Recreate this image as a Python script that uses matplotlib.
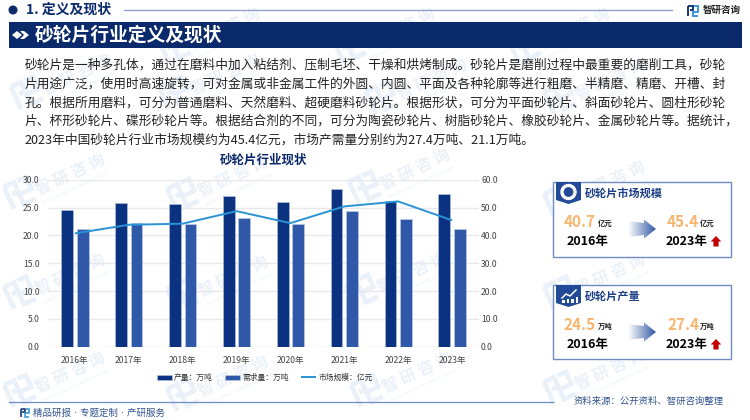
import numpy as np
import matplotlib
matplotlib.use('Agg')
import matplotlib.pyplot as plt
from matplotlib.patches import Polygon, Rectangle, Circle

plt.rcParams['font.family'] = ['Noto Sans CJK SC', 'DejaVu Sans']

years = ['2016年', '2017年', '2018年', '2019年', '2020年', '2021年', '2022年', '2023年']
production = [24.5, 25.8, 25.6, 27.0, 26.0, 28.3, 26.2, 27.4]
demand = [21.1, 22.3, 22.1, 23.2, 22.1, 24.4, 22.9, 21.1]
market = [40.7, 43.8, 44.2, 48.7, 44.4, 50.4, 52.2, 45.4]
left_ticks = [0, 5, 10, 15, 20, 25, 30]
right_ticks = [0, 10, 20, 30, 40, 50, 60]
body_lines = [
    '砂轮片是一种多孔体，通过在磨料中加入粘结剂、压制毛坯、干燥和烘烤制成。砂轮片是磨削过程中最重要的磨削工具，砂轮',
    '片用途广泛，使用时高速旋转，可对金属或非金属工件的外圆、内圆、平面及各种轮廓等进行粗磨、半精磨、精磨、开槽、封',
    '孔。根据所用磨料，可分为普通磨料、天然磨料、超硬磨料砂轮片。根据形状，可分为平面砂轮片、斜面砂轮片、圆柱形砂轮',
    '片、杯形砂轮片、碟形砂轮片等。根据结合剂的不同，可分为陶瓷砂轮片、树脂砂轮片、橡胶砂轮片、金属砂轮片等。据统计，',
    '2023年中国砂轮片行业市场规模约为45.4亿元，市场产需量分别约为27.4万吨、21.1万吨。',
]

NAVY = '#0B2A6B'
DARK = '#0B3281'
MID = '#2F59A8'
LINE = '#2A93D5'
BORDER = '#6F8CC4'
ORANGE = '#F7B56E'

fig = plt.figure(figsize=(7.5, 4.2), dpi=100, facecolor='white')
bg = fig.add_axes([0, 0, 1, 1], zorder=0)
bg.set_xlim(0, 750)
bg.set_ylim(420, 0)
bg.axis('off')
fg = fig.add_axes([0, 0, 1, 1], zorder=5)
fg.set_xlim(0, 750)
fg.set_ylim(420, 0)
fg.axis('off')
fg.patch.set_alpha(0)


def logo(ax, x, y, size, c1, c2, angle=0, lw=1.5):
    a = np.deg2rad(angle)
    rot = np.array([[np.cos(a), np.sin(a)], [-np.sin(a), np.cos(a)]])
    parts = [([(0, 0), (0.46, 0), (0.46, 0.42), (0.18, 0.42)], c1),
             ([(0, 0), (0, 1)], c1),
             ([(0.62, 0), (1, 0), (1, 0.55), (0.45, 0.55), (0.45, 1), (1, 1)], c2)]
    for pts, c in parts:
        p = np.array(pts) * size @ rot.T + [x, y]
        ax.plot(p[:, 0], p[:, 1], color=c, lw=lw, solid_capstyle='butt', solid_joinstyle='miter')


# watermarks
WM = '#EBF1F8'
marks = [(70, 175), (70, 275), (70, 373), (233, 177), (233, 277), (233, 377),
         (415, 170), (412, 273), (417, 373), (610, 182), (610, 275), (610, 370),
         (77, 75), (225, 75), (432, 80), (610, 80), (225, 29), (400, 29), (575, 29)]
for mx, my in marks:
    bg.text(mx, my, '智 研 咨 询', fontsize=11.5, color=WM, rotation=25,
            ha='center', va='center', rotation_mode='anchor', fontweight='bold')
    bg.text(mx + 6, my + 13, 'INTELLIGENCE RESEARCH GROUP', fontsize=3.2, color=WM, rotation=25,
            ha='center', va='center', rotation_mode='anchor', family='DejaVu Sans')
    logo(bg, mx - 66, my + 12, 24, WM, WM, angle=25, lw=3.4)

# header
fg.add_patch(Circle((13, 10), 3.8, color=NAVY))
fg.text(26, 10, '1. 定义及现状', fontsize=10, fontweight='bold', color=NAVY, va='center', ha='left')
fg.plot([124, 672], [9.5, 9.5], color='#8A9CC8', lw=0.9)
logo(fg, 688, 6, 10, NAVY, '#2E8FD8', lw=1.3)
fg.text(703, 9.5, '智研咨询', fontsize=6.8, fontweight='bold', color='#222222', va='center', ha='left')

# banner
fg.add_patch(Rectangle((9, 22), 733, 26, color=NAVY, lw=0))
fg.add_patch(Polygon([(12, 35), (17, 31), (22, 35), (17, 39)], color='white', lw=0))
fg.add_patch(Polygon([(20, 31), (24, 31), (29, 35), (24, 39), (20, 39), (24, 35)], color='white', lw=0))
fg.text(35, 35, '砂轮片行业定义及现状', fontsize=13.5, fontweight='bold', color='white', va='center', ha='left')

# body
for i, line in enumerate(body_lines):
    fg.text(25, 65.5 + i * 18.7, line, fontsize=9.15, color='#222222', va='center', ha='left')

# chart
ax = fig.add_axes([48 / 750, 1 - 346.7 / 420, 431 / 750, 167 / 420], zorder=2)
ax.patch.set_alpha(0)
x = np.arange(len(years))
w = 0.217
ax.bar(x - 0.144, production, w, color=DARK, edgecolor='#B9C6E2', lw=0.4, label='产量：万吨', zorder=3)
ax.bar(x + 0.144, demand, w, color=MID, edgecolor='#C4D0E8', lw=0.4, label='需求量：万吨', zorder=3)
ax.set_xlim(-0.5, 7.5)
ax.set_ylim(0, 30)
ax.set_yticks(left_ticks)
ax.set_yticklabels([f'{v:.1f}' for v in left_ticks])
ax.set_xticks(x)
ax.set_xticklabels(years)
ax.grid(axis='y', color='#E8E8EC', lw=1, zorder=0)
ax.set_axisbelow(True)
for s in ax.spines.values():
    s.set_visible(False)
ax.tick_params(length=0, labelsize=6.2, labelcolor='#444444')
ax.tick_params(axis='x', pad=7)
ax.tick_params(axis='y', pad=6)
ax2 = ax.twinx()
ax2.set_zorder(3)
ax2.patch.set_alpha(0)
ax2.plot(x, market, color=LINE, lw=1.4, label='市场规模：亿元', solid_capstyle='butt')
ax2.set_ylim(0, 60)
ax2.set_yticks(right_ticks)
ax2.set_yticklabels([f'{v:.1f}' for v in right_ticks])
for s in ax2.spines.values():
    s.set_visible(False)
ax2.tick_params(length=0, labelsize=6.2, labelcolor='#444444', pad=1.5)
h1, l1 = ax.get_legend_handles_labels()
h2, l2 = ax2.get_legend_handles_labels()
ax2.legend(h1 + h2, l1 + l2, ncol=3, frameon=False, fontsize=5.6, labelcolor='#333333',
           loc='center', bbox_to_anchor=((264.5 - 48) / 431, (346.7 - 378) / 167),
           handlelength=1.95, handleheight=0.75, handletextpad=0.25, columnspacing=1.6, borderpad=0)
fg.text(264, 160, '砂轮片行业现状', fontsize=9, fontweight='bold', color=NAVY, va='center', ha='center')

# footer
fg.plot([9, 553], [402, 402], color='#6F8CC4', lw=0.9)
logo(fg, 21, 409, 8, NAVY, '#2E8FD8', lw=1.1)
fg.text(33, 413, '精品研报 · 专题定制 · 产研服务', fontsize=6.8, color='#34558F', va='center', ha='left',
        family=['DejaVu Sans', 'Noto Sans CJK SC'])
fg.text(574, 401.5, '资料来源：公开资料、智研咨询整理', fontsize=6.75, color='#34558F', va='center', ha='left')


def gradient_arrow(cx, cy):
    pts = [(cx - 14, cy - 8), (cx + 2, cy - 6), (cx + 2, cy - 9.5), (cx + 14, cy),
           (cx + 2, cy + 9.5), (cx + 2, cy + 6), (cx - 14, cy + 8)]
    poly = Polygon(pts, transform=fg.transData, fc='none', ec='none')
    fg.add_patch(poly)
    grad = np.linspace(0, 1, 64)[None, :, None]
    rgb = np.array([1, 1, 1]) * (1 - grad) + np.array([0.2, 0.35, 0.65]) * grad
    im = fg.imshow(rgb, extent=(cx - 14, cx + 14, cy + 10, cy - 10), aspect='auto', zorder=3)
    im.set_clip_path(poly)
    fg.set_xlim(0, 750)
    fg.set_ylim(420, 0)


def red_arrow(cx, cy):
    fg.add_patch(Polygon([(cx, cy - 5.5), (cx + 5.3, cy), (cx + 2.6, cy), (cx + 2.6, cy + 5),
                          (cx - 2.6, cy + 5), (cx - 2.6, cy), (cx - 5.3, cy)], color='#C00000', lw=0))


def card(top, bottom, title, v0, v1, unit, icon):
    fg.add_patch(Rectangle((552.5, top), 178, bottom - top, fc='white', ec=BORDER, lw=1))
    fg.add_patch(Polygon([(556, top), (581, top), (581, top + 18), (568.5, top + 22), (556, top + 18)],
                         color='#234A96', lw=0))
    if icon == 'ring':
        fg.add_patch(Circle((568.5, top + 10), 7.5, color='white'))
        fg.add_patch(Circle((568.5, top + 10), 4.2, color='#234A96'))
    else:
        fg.plot([562, 566, 570, 576], [top + 13, top + 9, top + 11, top + 5], color='white', lw=1.1)
        for bx, bh in zip([562, 566.5, 571, 575.5], [3, 4, 4, 6]):
            fg.add_patch(Rectangle((bx, top + 18 - bh), 2.8, bh, color='white', lw=0))
    fg.text(585, top + 11, title, fontsize=8, fontweight='bold', color='#1C3F86', va='center', ha='left')
    vy = top + 40
    fg.text(564, vy, v0, fontsize=11, fontweight='bold', color=ORANGE, va='center', ha='left')
    fg.text(598, vy + 1.5, unit, fontsize=5.3, fontweight='bold', color='#222222', va='center', ha='left')
    fg.text(667, vy, v1, fontsize=11, fontweight='bold', color=ORANGE, va='center', ha='left')
    fg.text(700, vy + 1.5, unit, fontsize=5.3, fontweight='bold', color='#222222', va='center', ha='left')
    fg.text(567, top + 59.5, '2016年', fontsize=9, fontweight='bold', color='black', va='center', ha='left')
    fg.text(666, top + 59.5, '2023年', fontsize=9, fontweight='bold', color='black', va='center', ha='left')
    gradient_arrow(642, top + 47)
    red_arrow(716, top + 59.5)


card(182, 257, '砂轮片市场规模', '40.7', '45.4', '亿元', 'ring')
card(285, 359, '砂轮片产量', '24.5', '27.4', '万吨', 'bars')

fig.savefig('out.png', dpi=100)
